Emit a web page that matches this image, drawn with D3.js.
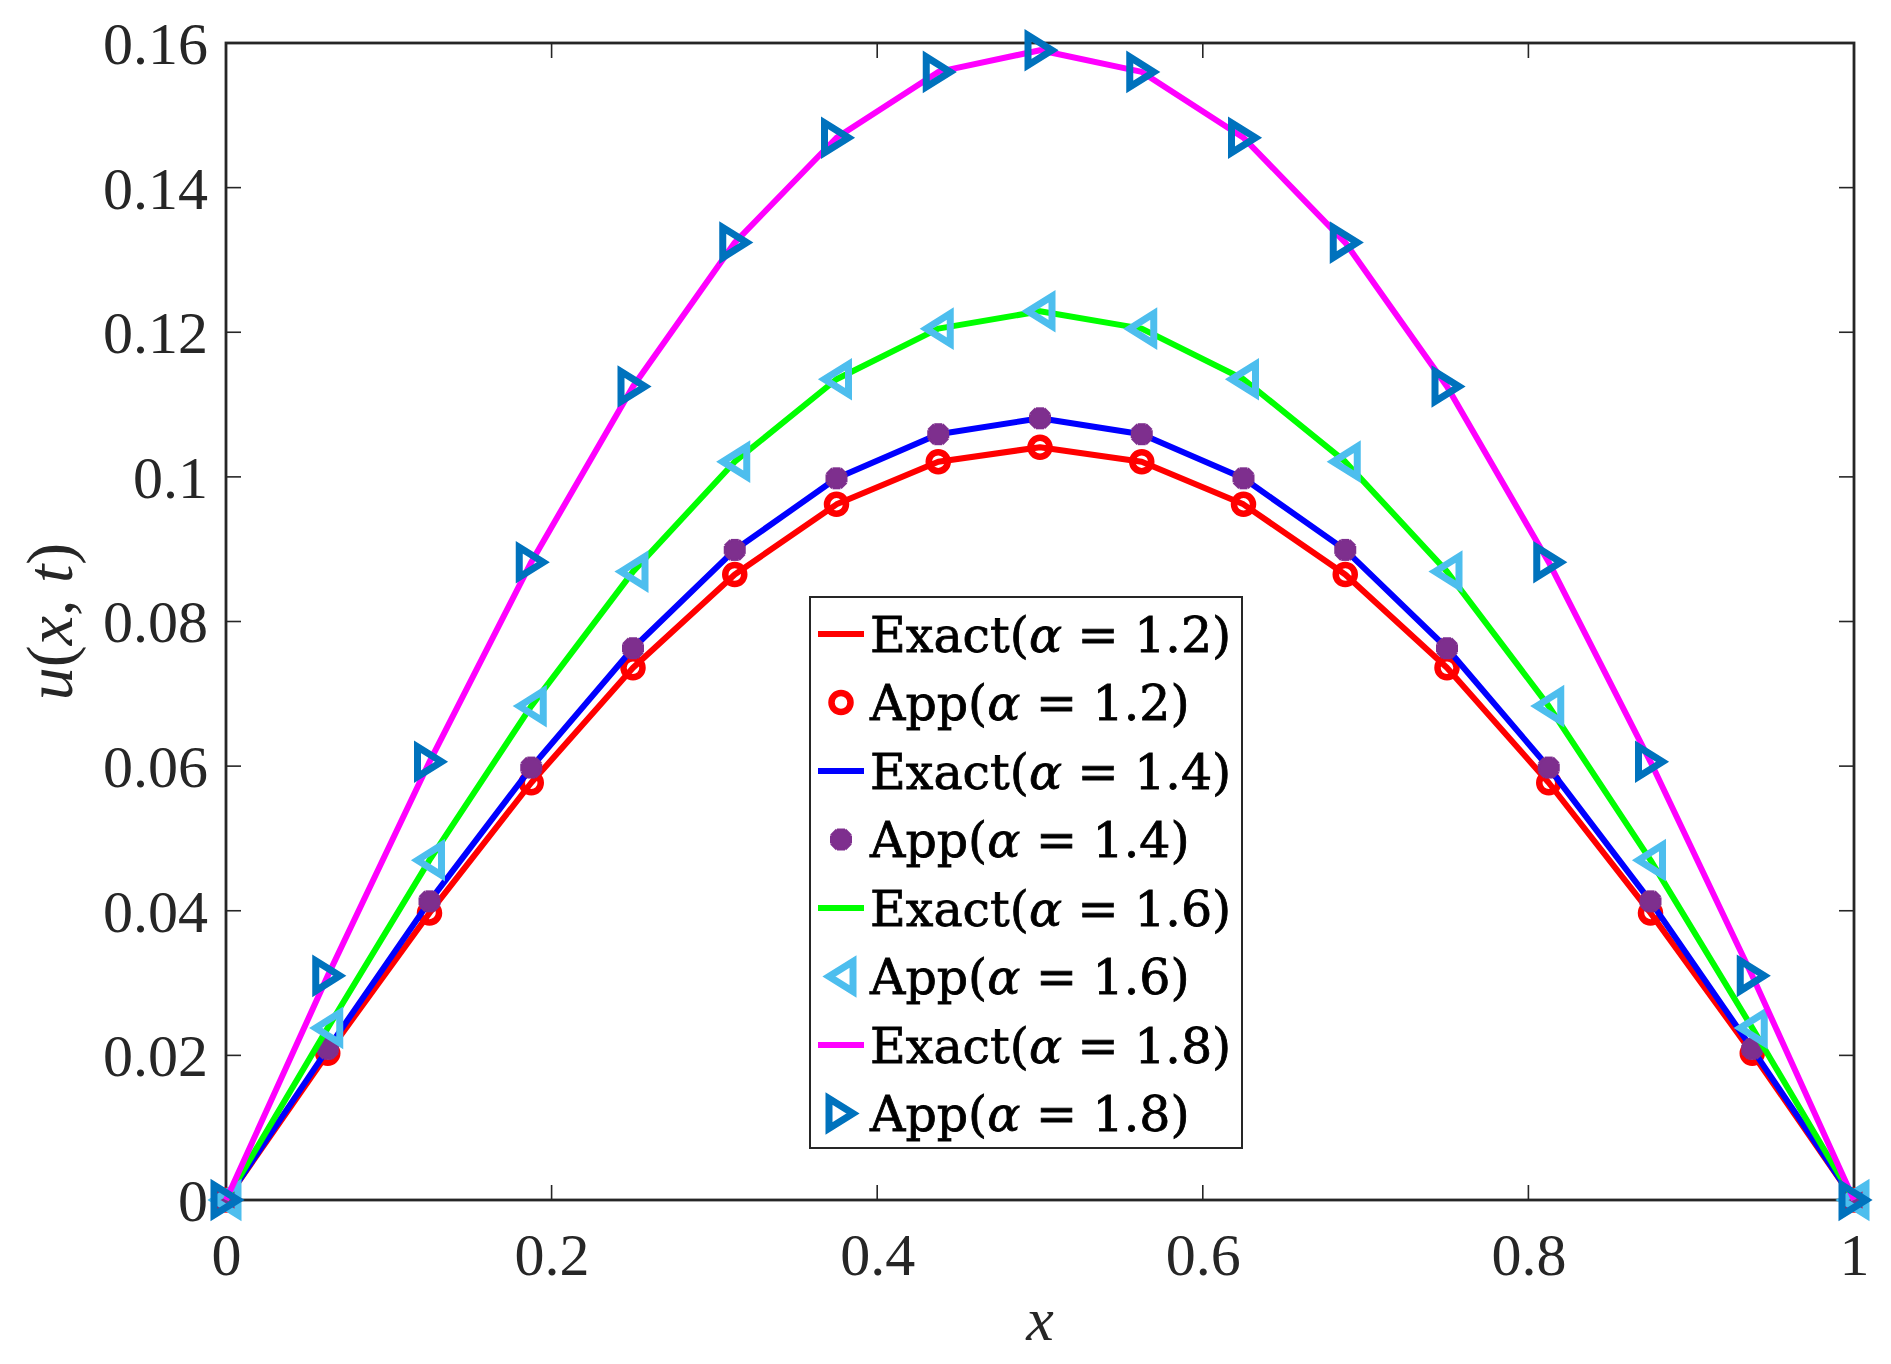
<!DOCTYPE html>
<html>
<head>
<meta charset="utf-8">
<script src="https://cdn.jsdelivr.net/npm/d3@7"></script>
<style>
  html, body { margin: 0; padding: 0; background: #fff; }
  svg { display: block; }
</style>
</head>
<body>
<svg id="chart" width="1891" height="1364"></svg>
<script>
// ---- data ----
const xValues = [0, 0.0625, 0.125, 0.1875, 0.25, 0.3125, 0.375, 0.4375, 0.5,
                 0.5625, 0.625, 0.6875, 0.75, 0.8125, 0.875, 0.9375, 1];
const u12 = [0, 0.0203, 0.0397, 0.0577, 0.0736, 0.0865, 0.0962, 0.1021, 0.1041,
             0.1021, 0.0962, 0.0865, 0.0736, 0.0577, 0.0397, 0.0203, 0];
const u14 = [0, 0.0209, 0.0413, 0.0598, 0.0763, 0.0899, 0.0998, 0.1059, 0.1081,
             0.1059, 0.0998, 0.0899, 0.0763, 0.0598, 0.0413, 0.0209, 0];
const u16 = [0, 0.0238, 0.0470, 0.0683, 0.0869, 0.1021, 0.1135, 0.1205, 0.1229,
             0.1205, 0.1135, 0.1021, 0.0869, 0.0683, 0.0470, 0.0238, 0];
const u18 = [0, 0.0310, 0.0606, 0.0882, 0.1125, 0.1324, 0.1469, 0.1560, 0.1590,
             0.1560, 0.1469, 0.1324, 0.1125, 0.0882, 0.0606, 0.0310, 0];
const alphas = ["1.2", "1.4", "1.6", "1.8"];
const xTicks = [0, 0.2, 0.4, 0.6, 0.8, 1];
const xTickLabels = ["0", "0.2", "0.4", "0.6", "0.8", "1"];
const yTicks = [0, 0.02, 0.04, 0.06, 0.08, 0.1, 0.12, 0.14, 0.16];
const yTickLabels = ["0", "0.02", "0.04", "0.06", "0.08", "0.1", "0.12", "0.14", "0.16"];

// ---- styles ----
const seriesData = [u12, u14, u16, u18];
const lineColors = ["#FF0000", "#0000FF", "#00FF00", "#FF00FF"];
const markerColors = ["#FF0000", "#7E2F8E", "#4DBEEE", "#0072BD"];
const markerTypes = ["circle", "asterisk", "triLeft", "triRight"];

const svg = d3.select("#chart");
const L = 226, R = 1854, T = 43, B = 1200;
const x = d3.scaleLinear().domain([0, 1]).range([L, R]);
const y = d3.scaleLinear().domain([0, 0.16]).range([B, T]);
const axisColor = "#262626";
const fontAxis = "'Liberation Serif', 'Times New Roman', Times, serif";

// axes box & ticks
const gAx = svg.append("g");
const tickLen = 15;
const xAxisB = d3.axisBottom(x).tickValues(xTicks).tickSize(0).tickFormat((d, i) => xTickLabels[i]);
const gxb = gAx.append("g").attr("transform", `translate(0,${B})`).call(xAxisB);
gxb.select(".domain").remove();
gxb.selectAll("text").attr("font-family", fontAxis).attr("font-size", 60)
   .attr("fill", axisColor).attr("dy", "1.2em");
const yAxisL = d3.axisLeft(y).tickValues(yTicks).tickSize(0).tickFormat((d, i) => yTickLabels[i]);
const gyl = gAx.append("g").attr("transform", `translate(${L},0)`).call(yAxisL);
gyl.select(".domain").remove();
gyl.selectAll("text").attr("font-family", fontAxis).attr("font-size", 60)
   .attr("fill", axisColor).attr("x", -18).attr("dy", "0.34em");

// inner ticks on all sides
xTicks.forEach(t => {
  gAx.append("line").attr("x1", x(t)).attr("x2", x(t)).attr("y1", B).attr("y2", B - tickLen)
     .attr("stroke", axisColor).attr("stroke-width", 1.6);
  gAx.append("line").attr("x1", x(t)).attr("x2", x(t)).attr("y1", T).attr("y2", T + tickLen)
     .attr("stroke", axisColor).attr("stroke-width", 1.6);
});
yTicks.forEach(t => {
  gAx.append("line").attr("x1", L).attr("x2", L + tickLen).attr("y1", y(t)).attr("y2", y(t))
     .attr("stroke", axisColor).attr("stroke-width", 1.6);
  gAx.append("line").attr("x1", R).attr("x2", R - tickLen).attr("y1", y(t)).attr("y2", y(t))
     .attr("stroke", axisColor).attr("stroke-width", 1.6);
});
gAx.append("rect").attr("x", L).attr("y", T).attr("width", R - L).attr("height", B - T)
   .attr("fill", "none").attr("stroke", axisColor).attr("stroke-width", 2.8);

// axis labels
svg.append("text").attr("x", x(0.5)).attr("y", 1340).attr("text-anchor", "middle")
   .attr("font-family", fontAxis).attr("font-size", 62).attr("font-style", "italic")
   .attr("fill", axisColor).text("x");
const yl = svg.append("text").attr("transform", `translate(72,${(T + B) / 2}) rotate(-90)`)
   .attr("text-anchor", "middle").attr("font-family", fontAxis).attr("font-size", 66)
   .attr("fill", axisColor);
yl.append("tspan").attr("font-style", "italic").text("u");
yl.append("tspan").text("(");
yl.append("tspan").attr("font-style", "italic").text("x");
yl.append("tspan").text(", ");
yl.append("tspan").attr("font-style", "italic").text("t");
yl.append("tspan").text(")");

// markers
function drawMarker(g, type, color, cx, cy) {
  if (type === "circle") {
    g.append("circle").attr("cx", cx).attr("cy", cy).attr("r", 9.5)
     .attr("fill", "none").attr("stroke", color).attr("stroke-width", 6.5);
  } else if (type === "asterisk") {
    const r = 11;
    [[r, 0], [0, r], [r * 0.72, r * 0.72], [r * 0.72, -r * 0.72]].forEach(([dx, dy]) => {
      g.append("line").attr("x1", cx - dx).attr("y1", cy - dy).attr("x2", cx + dx).attr("y2", cy + dy)
       .attr("stroke", color).attr("stroke-width", 8);
    });
    g.append("circle").attr("cx", cx).attr("cy", cy).attr("r", 9).attr("fill", color);
  } else if (type === "triLeft") {
    const pts = [[cx - 12, cy], [cx + 12, cy - 15], [cx + 12, cy + 15]];
    g.append("path").attr("d", "M" + pts.map(p => p.join(",")).join("L") + "Z")
     .attr("fill", "none").attr("stroke", color).attr("stroke-width", 7).attr("stroke-linejoin", "miter");
  } else if (type === "triRight") {
    const pts = [[cx + 12, cy], [cx - 12, cy - 15], [cx - 12, cy + 15]];
    g.append("path").attr("d", "M" + pts.map(p => p.join(",")).join("L") + "Z")
     .attr("fill", "none").attr("stroke", color).attr("stroke-width", 7).attr("stroke-linejoin", "miter");
  }
}

// lines then markers, series in order
const line = d3.line().x((d, i) => x(xValues[i])).y(d => y(d));
const gPlot = svg.append("g");
seriesData.forEach((s, k) => {
  gPlot.append("path").datum(s).attr("d", line).attr("fill", "none")
       .attr("stroke", lineColors[k]).attr("stroke-width", 6).attr("stroke-linejoin", "round");
  const gm = gPlot.append("g");
  s.forEach((v, i) => drawMarker(gm, markerTypes[k], markerColors[k], x(xValues[i]), y(v)));
});

// legend
const lgX = 810, lgY = 597, lgW = 432, lgH = 551;
const gL = svg.append("g");
gL.append("rect").attr("x", lgX).attr("y", lgY).attr("width", lgW).attr("height", lgH)
  .attr("fill", "#fff").attr("stroke", axisColor).attr("stroke-width", 2);
const rowH = 68.5;
const legendFont = "'DejaVu Serif', serif";
let row = 0;
alphas.forEach((a, k) => {
  ["Exact", "App"].forEach(kind => {
    const cy = lgY + 37 + row * rowH;
    if (kind === "Exact") {
      gL.append("line").attr("x1", 818).attr("x2", 864).attr("y1", cy).attr("y2", cy)
        .attr("stroke", lineColors[k]).attr("stroke-width", 6);
    } else {
      drawMarker(gL, markerTypes[k], markerColors[k], 841, cy);
    }
    const t = gL.append("text").attr("x", 870).attr("y", cy).attr("dy", "0.36em")
      .attr("font-family", legendFont).attr("font-size", 49).attr("fill", "#000")
      .attr("stroke", "#000").attr("stroke-width", 0.8);
    t.append("tspan").text(kind + "(");
    t.append("tspan").attr("font-style", "italic").text("α");
    t.append("tspan").text(" = " + a + ")");
    row++;
  });
});
</script>
</body>
</html>
